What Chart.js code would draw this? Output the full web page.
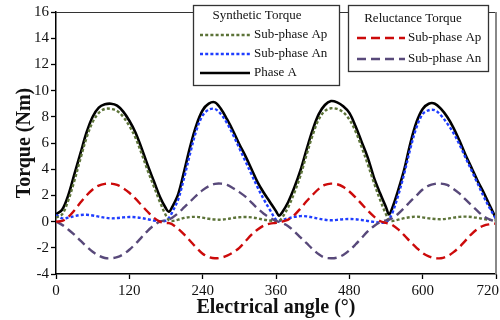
<!DOCTYPE html>
<html><head><meta charset="utf-8">
<script src="https://cdn.jsdelivr.net/npm/chart.js@4.4.1/dist/chart.umd.min.js"></script>
<style>html,body{margin:0;padding:0;background:#fff}</style>
</head><body>
<canvas id="c" width="500" height="320"></canvas>
<script>
// Electrical angle samples (degrees)
const angles = [0,10,20,30,40,50,60,70,80,90,100,110,120,130,140,150,160,170,180,185,
  190,200,210,220,230,240,250,260,270,280,290,300,310,320,330,340,350,360,365,
  370,380,390,400,410,420,430,440,450,460,470,480,490,500,510,520,530,540,545,
  550,560,570,580,590,600,610,620,630,640,650,660,670,680,690,700,710,720];

const xTickValues = [0,120,240,360,480,600,720];

// Synthetic torque
const phaseA = [0.55,0.9,2.0,3.6,5.2,6.8,8.0,8.7,8.95,9.0,8.85,8.4,7.7,6.8,5.6,4.3,3.1,1.9,1.0,0.75,
  1.1,2.1,3.9,5.8,7.4,8.5,9.0,9.1,8.6,7.8,6.9,5.9,5.0,4.0,3.0,2.2,1.5,0.8,0.45,
  0.7,1.5,2.6,3.9,5.5,7.0,8.2,8.9,9.2,9.1,8.8,8.3,7.3,6.1,4.9,3.4,2.2,1.1,0.55,
  1.0,2.4,4.0,6.0,7.6,8.6,9.0,9.0,8.6,8.0,7.2,6.2,5.1,4.1,3.1,2.2,1.2,0.25];

const synAp = [0.3,0.55,1.6,3.1,4.8,6.4,7.6,8.3,8.6,8.6,8.45,8.0,7.3,6.4,5.2,3.9,2.7,1.5,0.45,0.1,
  0.05,0.15,0.28,0.35,0.36,0.3,0.22,0.16,0.15,0.2,0.28,0.33,0.35,0.32,0.25,0.15,0.08,0.05,0.05,
  0.3,1.1,2.2,3.5,5.1,6.6,7.8,8.45,8.65,8.6,8.35,7.8,6.9,5.7,4.4,3.0,1.7,0.55,0.1,
  0.05,0.15,0.26,0.34,0.38,0.32,0.25,0.2,0.18,0.22,0.3,0.36,0.38,0.35,0.28,0.2,0.13,0.1];

const synAn = [0.5,0.25,0.3,0.42,0.5,0.52,0.47,0.38,0.3,0.25,0.27,0.32,0.35,0.33,0.27,0.18,0.08,0.02,0.08,0.3,
  0.7,1.7,3.4,5.3,7.0,8.1,8.55,8.6,8.2,7.5,6.6,5.6,4.6,3.6,2.6,1.7,0.9,0.15,0.05,
  0.12,0.25,0.36,0.42,0.4,0.32,0.22,0.14,0.1,0.13,0.18,0.2,0.18,0.12,0.05,-0.02,-0.08,-0.05,0.2,
  0.6,2.0,3.7,5.6,7.2,8.2,8.5,8.5,8.1,7.5,6.8,5.9,4.9,3.9,2.9,1.9,1.0,0.2];

// Reluctance torque
const relAp = [0,0.05,0.35,0.85,1.45,2.0,2.45,2.75,2.88,2.9,2.8,2.55,2.2,1.75,1.25,0.75,0.3,0.0,-0.1,-0.12,
  -0.2,-0.55,-1.0,-1.5,-2.0,-2.45,-2.7,-2.8,-2.75,-2.6,-2.35,-2.0,-1.5,-1.0,-0.6,-0.3,-0.15,-0.1,-0.05,
  0.0,0.15,0.5,1.0,1.55,2.05,2.5,2.8,2.9,2.85,2.65,2.3,1.85,1.35,0.85,0.4,0.05,-0.1,-0.15,
  -0.25,-0.6,-1.05,-1.55,-2.0,-2.4,-2.65,-2.78,-2.8,-2.65,-2.35,-1.95,-1.45,-0.95,-0.55,-0.3,-0.2,-0.15];

const relAn = [0,-0.25,-0.6,-1.0,-1.45,-1.9,-2.3,-2.6,-2.78,-2.8,-2.72,-2.5,-2.15,-1.7,-1.2,-0.7,-0.3,0.0,0.1,0.15,
  0.3,0.65,1.1,1.55,2.0,2.4,2.7,2.88,2.9,2.8,2.55,2.25,1.9,1.45,1.0,0.6,0.3,0.05,-0.02,
  -0.1,-0.35,-0.75,-1.2,-1.65,-2.1,-2.5,-2.75,-2.8,-2.75,-2.55,-2.2,-1.75,-1.25,-0.75,-0.35,-0.05,0.1,0.15,
  0.25,0.6,1.05,1.55,2.0,2.45,2.75,2.88,2.9,2.8,2.5,2.15,1.7,1.25,0.8,0.4,0.15,0.0];

const SERIF = '"Liberation Serif","Times New Roman",serif';
const pts = arr => angles.map((a,i)=>({x:a,y:arr[i]}));

function ds(label, group, arr, color, dash, width, order){
  return {label, group, data: pts(arr), borderColor: color, backgroundColor: color,
    borderWidth: width, borderDash: dash, pointRadius: 0, fill: false,
    tension: 0.35, order};
}

const datasets = [
  ds('Sub-phase Ap','Synthetic Torque', synAp, '#5c7338', [3,2.2], 2.4, 2),
  ds('Sub-phase An','Synthetic Torque', synAn, '#1f3dff', [3,2.2], 2.4, 2),
  ds('Phase A','Synthetic Torque', phaseA, '#000000', [], 2.6, 3),
  ds('Sub-phase Ap','Reluctance Torque', relAp, '#cc0a0a', [9,5], 2.4, 1),
  ds('Sub-phase An','Reluctance Torque', relAn, '#58497a', [9,5], 2.4, 1)
];

const legendLayout = [
  {title:'Synthetic Torque', box:[193,5,146,80], tx:257, ty:16, x0:200, x1:250, lx:254, rows:[35,54,73]},
  {title:'Reluctance Torque', box:[348,5,140,66], tx:413, ty:19, x0:357, x1:405, lx:408, rows:[38,59]}
];

const decor = {
  id:'decor',
  afterDraw(chart){
    const ctx = chart.ctx, ca = chart.chartArea;
    ctx.save();
    // frame top & right
    ctx.strokeStyle = '#333'; ctx.lineWidth = 1;
    ctx.beginPath(); ctx.moveTo(ca.left, ca.top+0.5); ctx.lineTo(ca.right, ca.top+0.5); ctx.stroke();
    ctx.strokeStyle = '#888'; ctx.lineWidth = 2;
    ctx.beginPath(); ctx.moveTo(ca.right, ca.top); ctx.lineTo(ca.right, ca.bottom); ctx.stroke();
    // x tick labels (kept inside canvas)
    const xs = chart.scales.x;
    ctx.fillStyle = '#111'; ctx.font = '15px '+SERIF; ctx.textBaseline = 'middle';
    xs.ticks.forEach((t,i)=>{
      const lbl = String(t.value);
      const w = ctx.measureText(lbl).width;
      let cx = xs.getPixelForTick(i);
      cx = Math.min(cx, 499 - w/2);
      ctx.textAlign = 'center';
      ctx.fillText(lbl, cx, ca.bottom + 17);
    });
    // legends
    legendLayout.forEach(L=>{
      const [bx,by,bw,bh] = L.box;
      ctx.fillStyle = '#fff'; ctx.fillRect(bx,by,bw,bh);
      ctx.strokeStyle = '#333'; ctx.lineWidth = 1.3; ctx.setLineDash([]);
      ctx.strokeRect(bx+0.5,by+0.5,bw,bh);
      ctx.fillStyle = '#111'; ctx.font = '13px '+SERIF; ctx.textAlign='center'; ctx.textBaseline='middle';
      ctx.fillText(L.title, L.tx, L.ty);
      const items = chart.data.datasets.filter(d=>d.group===L.title);
      items.forEach((d,i)=>{
        const y = L.rows[i];
        ctx.strokeStyle = d.borderColor; ctx.lineWidth = d.borderWidth;
        ctx.setLineDash(d.borderDash);
        ctx.beginPath(); ctx.moveTo(L.x0,y); ctx.lineTo(L.x1,y); ctx.stroke();
        ctx.setLineDash([]);
        ctx.fillStyle = '#111'; ctx.textAlign='left';
        ctx.fillText(d.label, L.lx, y);
      });
    });
    ctx.restore();
  }
};

new Chart(document.getElementById('c'), {
  type:'line',
  data:{datasets},
  options:{
    responsive:false, animation:false, devicePixelRatio:1,
    layout:{padding:{top:12,right:4,left:0,bottom:0}},
    plugins:{legend:{display:false}, tooltip:{enabled:false}},
    scales:{
      x:{type:'linear', min:0, max:720,
        afterBuildTicks(s){ s.ticks = xTickValues.map(v=>({value:v})); },
        afterFit(s){ s.height = 46; s.paddingLeft = 0; s.paddingRight = 0; },
        ticks:{display:false},
        grid:{display:true, drawOnChartArea:false, drawTicks:true, tickLength:5, color:'#000', tickWidth:1.3},
        border:{display:true, color:'#000', width:1.5},
        title:{display:true, text:'Electrical angle (°)', color:'#111',
          font:{family:SERIF, size:20, weight:'bold'}, padding:{top:0,bottom:0}}
      },
      y:{type:'linear', min:-4, max:16,
        ticks:{stepSize:2, color:'#111', padding:2, font:{family:SERIF, size:15}},
        afterFit(s){ s.width = 56; s.paddingTop = 0; s.paddingBottom = 0; },
        grid:{display:true, drawOnChartArea:false, drawTicks:true, tickLength:5, color:'#000', tickWidth:1.3},
        border:{display:true, color:'#000', width:1.5},
        title:{display:true, text:'Torque (Nm)', color:'#111', align:'center',
          font:{family:SERIF, size:20, weight:'bold'}, padding:{top:13,bottom:0}}
      }
    }
  },
  plugins:[decor]
});
</script>
</body></html>
